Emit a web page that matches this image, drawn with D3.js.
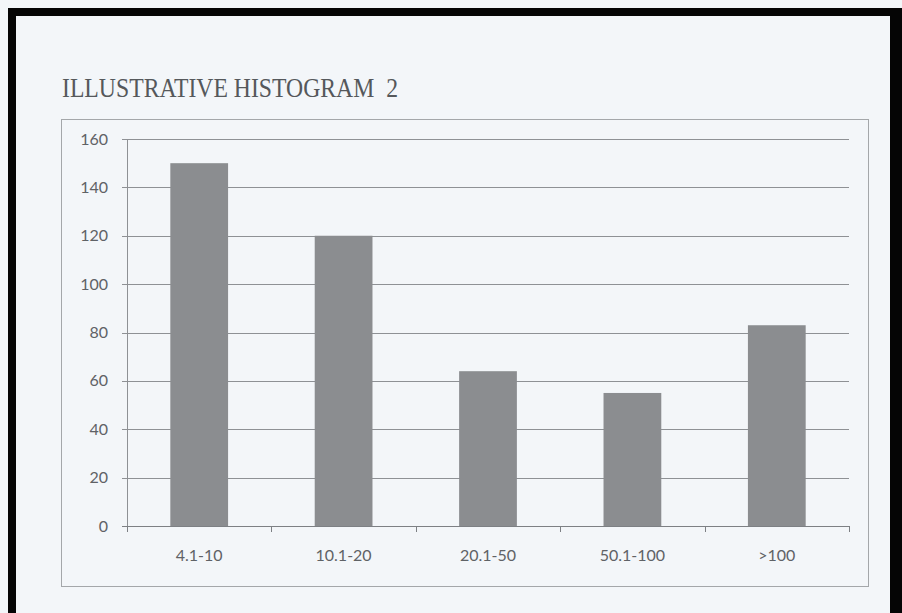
<!DOCTYPE html>
<html>
<head>
<meta charset="utf-8">
<script src="https://cdn.jsdelivr.net/npm/d3@7"></script>
<style>
	body { margin: 0; background: #f3f6f9; }
	svg { display: block; }
</style>
</head>
<body>
<svg id="chart" width="902" height="613"></svg>
<script>
const categories = ['4.1-10', '10.1-20', '20.1-50', '50.1-100', '>100'];
const counts = [150, 120, 64, 55, 83];
const yTicks = [0, 20, 40, 60, 80, 100, 120, 140, 160];

const svg = d3.select('#chart');

// scan frame (black edges of the photocopy)
svg.append('rect').attr('x', 0).attr('y', 0).attr('width', 902).attr('height', 613).attr('fill', '#f3f6f9');
svg.append('rect').attr('x', 8).attr('y', 8).attr('width', 894).attr('height', 8).attr('fill', '#050505');
svg.append('rect').attr('x', 8).attr('y', 8).attr('width', 8).attr('height', 605).attr('fill', '#050505');
svg.append('rect').attr('x', 890).attr('y', 8).attr('width', 12).attr('height', 605).attr('fill', '#050505');

// chart area border
svg.append('rect')
	.attr('x', 61.5).attr('y', 119.5)
	.attr('width', 807).attr('height', 467)
	.attr('fill', 'none')
	.attr('stroke', '#a4a7aa')
	.attr('stroke-width', 1);

// title (keeps the double space before the 2)
svg.append('text')
	.attr('x', 62).attr('y', 97)
	.attr('font-family', 'Liberation Serif, serif')
	.attr('font-size', 27)
	.attr('fill', '#55585b')
	.attr('textLength', 336)
	.attr('lengthAdjust', 'spacingAndGlyphs')
	.text('ILLUSTRATIVE HISTOGRAM \u00a02');

const margin = {left: 127, right: 849, top: 139, bottom: 526};

const x = d3.scaleBand()
	.domain(categories)
	.range([margin.left, margin.right])
	.paddingInner(0.6)
	.paddingOuter(0.3);

const y = d3.scaleLinear()
	.domain([0, 160])
	.range([margin.bottom, margin.top]);

// gridlines
svg.append('g')
	.selectAll('line')
	.data(yTicks)
	.join('line')
	.attr('x1', margin.left - 5)
	.attr('x2', margin.right)
	.attr('y1', d => Math.round(y(d)) + 0.5)
	.attr('y2', d => Math.round(y(d)) + 0.5)
	.attr('stroke', '#8e9195')
	.attr('stroke-width', 1);

// y tick labels
svg.append('g')
	.selectAll('text')
	.data(yTicks)
	.join('text')
	.attr('x', 108)
	.attr('y', d => y(d))
	.attr('dy', '0.35em')
	.attr('text-anchor', 'end')
	.attr('font-family', 'Lato, sans-serif')
	.attr('font-size', 16)
	.attr('fill', '#5f6266')
	.text(d => d);

// bars
svg.append('g')
	.selectAll('rect')
	.data(counts)
	.join('rect')
	.attr('x', (d, i) => x(categories[i]))
	.attr('width', x.bandwidth())
	.attr('y', d => y(d))
	.attr('height', d => y(0) - y(d))
	.attr('fill', '#8b8d90');

// y axis line
svg.append('line')
	.attr('x1', margin.left + 0.5).attr('x2', margin.left + 0.5)
	.attr('y1', margin.top).attr('y2', margin.bottom + 1)
	.attr('stroke', '#8e9195');

// x axis with boundary ticks
const bounds = d3.range(categories.length + 1).map(i => margin.left + i * x.step());
svg.append('line')
	.attr('x1', margin.left - 5).attr('x2', margin.right)
	.attr('y1', y(0) + 0.5).attr('y2', y(0) + 0.5)
	.attr('stroke', '#7d8084');
svg.append('g')
	.selectAll('line')
	.data(bounds)
	.join('line')
	.attr('x1', d => Math.round(d) + 0.5)
	.attr('x2', d => Math.round(d) + 0.5)
	.attr('y1', y(0))
	.attr('y2', y(0) + 6)
	.attr('stroke', '#7d8084');

// x labels
svg.append('g')
	.selectAll('text')
	.data(categories)
	.join('text')
	.attr('x', d => x(d) + x.bandwidth() / 2)
	.attr('y', 555)
	.attr('dy', '0.35em')
	.attr('text-anchor', 'middle')
	.attr('font-family', 'Lato, sans-serif')
	.attr('font-size', 16)
	.attr('fill', '#5f6266')
	.text(d => d);
</script>
</body>
</html>
